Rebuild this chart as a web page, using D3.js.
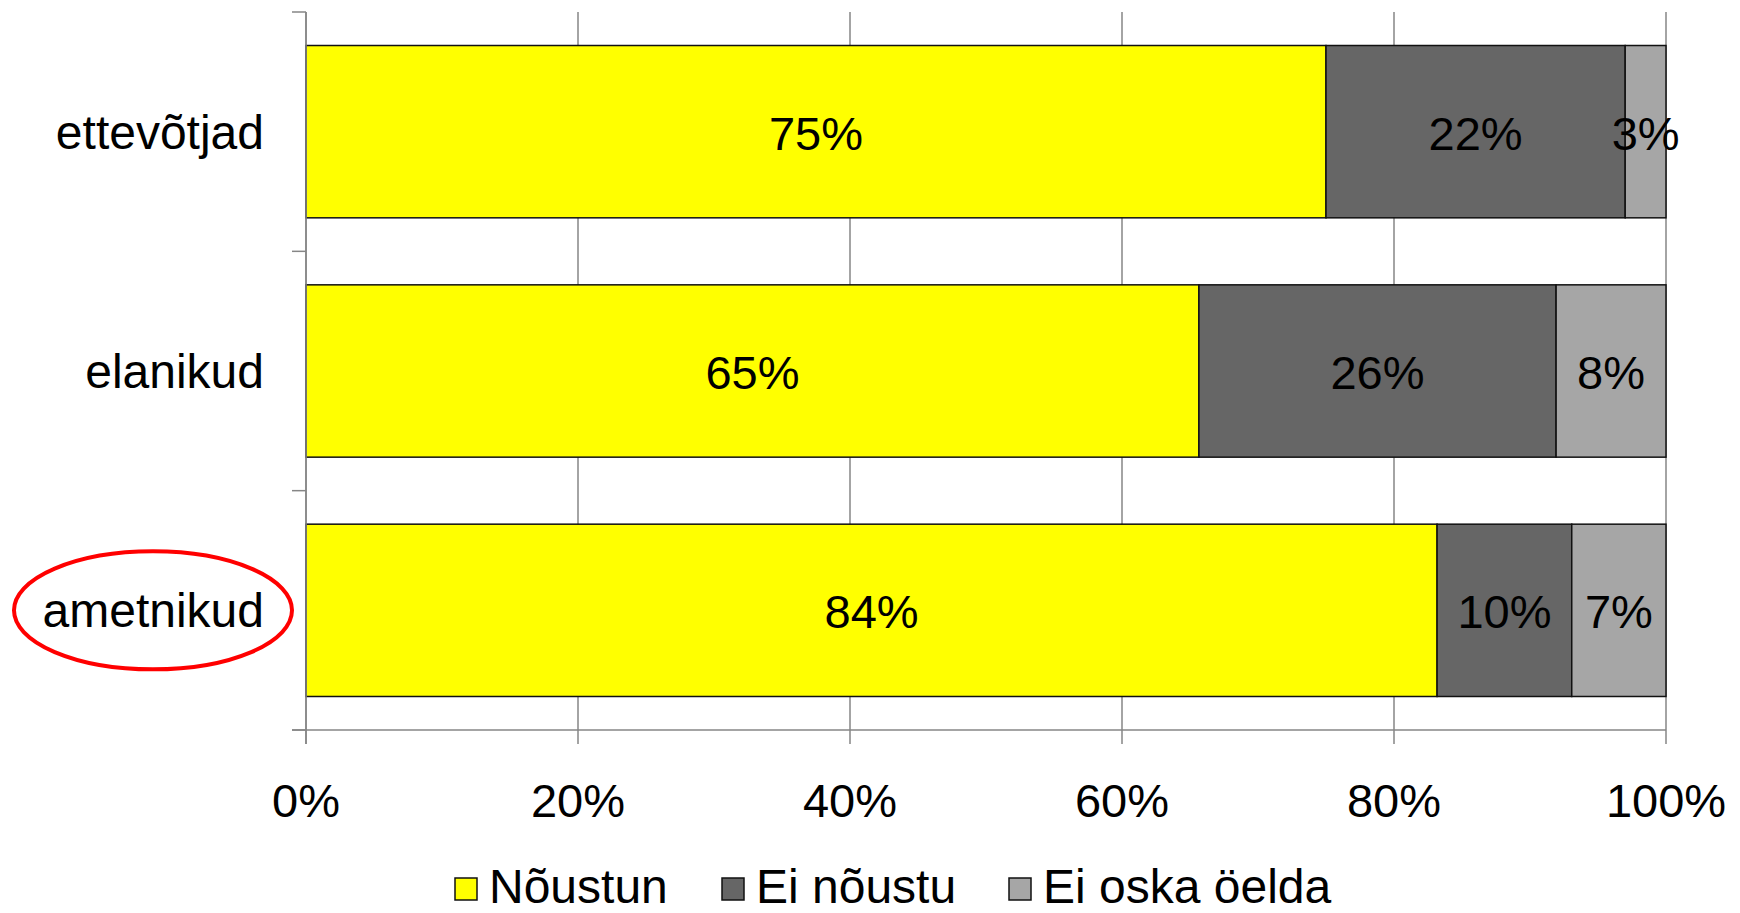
<!DOCTYPE html>
<html>
<head>
<meta charset="utf-8">
<script src="https://cdn.jsdelivr.net/npm/d3@7"></script>
<style>
  html, body { margin: 0; padding: 0; background: #fff; }
  svg { display: block; }
  text { font-family: "Liberation Sans", Arial, sans-serif; fill: #000; }
</style>
</head>
<body>
<svg id="chart" width="1740" height="913"></svg>
<script>
const categories = ["ettevõtjad", "elanikud", "ametnikud"];
const seriesNames = ["Nõustun", "Ei nõustu", "Ei oska öelda"];
const nõustun = [75, 65, 84];
const eiNõustu = [22, 26, 10];
const eiOskaÖelda = [3, 8, 7];
const tickValues = [0, 0.2, 0.4, 0.6, 0.8, 1];
const tickLabels = ["0%", "20%", "40%", "60%", "80%", "100%"];
const colors = ["#FFFF00", "#666666", "#A6A6A6"];
const highlighted = "ametnikud";

const rows = categories.map((c, i) => ({
  category: c,
  "Nõustun": nõustun[i],
  "Ei nõustu": eiNõustu[i],
  "Ei oska öelda": eiOskaÖelda[i]
}));

const svg = d3.select("#chart");
const plot = { left: 306, right: 1666, top: 12, bottom: 730 };
const fontSize = 47;

const x = d3.scaleLinear().domain([0, 1]).range([plot.left, plot.right]);
const y = d3.scaleBand().domain(categories).range([plot.top, plot.bottom])
  .paddingInner(0.28).paddingOuter(0.14);

const stacked = d3.stack().keys(seriesNames).offset(d3.stackOffsetExpand)(rows);
const color = d3.scaleOrdinal().domain(seriesNames).range(colors);

// vertical gridlines (extend below axis as tick marks)
svg.append("g").selectAll("line").data(tickValues).join("line")
  .attr("x1", d => x(d)).attr("x2", d => x(d))
  .attr("y1", plot.top).attr("y2", plot.bottom + 14)
  .attr("stroke", "#868686").attr("stroke-width", 1.5);

// bottom axis line
svg.append("line")
  .attr("x1", plot.left - 14).attr("x2", plot.right)
  .attr("y1", plot.bottom).attr("y2", plot.bottom)
  .attr("stroke", "#868686").attr("stroke-width", 1.5);

// category tick marks (band boundaries)
const boundaries = categories.map(c => y(c) - (y.step() - y.bandwidth()) / 2);
boundaries.push(plot.bottom);
svg.append("g").selectAll("line").data(boundaries).join("line")
  .attr("x1", plot.left - 14).attr("x2", plot.left)
  .attr("y1", d => d).attr("y2", d => d)
  .attr("stroke", "#868686").attr("stroke-width", 1.5);

// bars
const layer = svg.append("g").selectAll("g").data(stacked).join("g")
  .attr("fill", d => color(d.key));
layer.selectAll("rect").data(d => d).join("rect")
  .attr("x", d => x(d[0]))
  .attr("width", d => x(d[1]) - x(d[0]))
  .attr("y", d => y(d.data.category))
  .attr("height", y.bandwidth())
  .attr("stroke", "#111").attr("stroke-width", 1.5);

// left axis line (on top of bars)
svg.append("line")
  .attr("x1", plot.left).attr("x2", plot.left)
  .attr("y1", plot.top).attr("y2", plot.bottom + 14)
  .attr("stroke", "#868686").attr("stroke-width", 1.5);

// value labels
const rawSeries = [nõustun, eiNõustu, eiOskaÖelda];
const labels = [];
stacked.forEach((s, si) => {
  s.forEach((d, ci) => {
    labels.push({ x: (x(d[0]) + x(d[1])) / 2, y: y(d.data.category) + y.bandwidth() / 2, text: rawSeries[si][ci] + "%" });
  });
});
svg.append("g").selectAll("text").data(labels).join("text")
  .attr("x", d => d.x).attr("y", d => d.y + 18)
  .attr("text-anchor", "middle")
  .attr("font-size", fontSize)
  .text(d => d.text);

// category labels
svg.append("g").selectAll("text").data(categories).join("text")
  .attr("x", 264)
  .attr("y", d => y(d) + y.bandwidth() / 2 + 17)
  .attr("text-anchor", "end")
  .attr("font-size", 48)
  .text(d => d);

// highlight ellipse
svg.append("ellipse")
  .attr("cx", 153)
  .attr("cy", y(highlighted) + y.bandwidth() / 2)
  .attr("rx", 139).attr("ry", 59)
  .attr("fill", "none").attr("stroke", "#FF0000").attr("stroke-width", 4);

// x tick labels
svg.append("g").selectAll("text").data(tickValues).join("text")
  .attr("x", d => x(d)).attr("y", 817)
  .attr("text-anchor", "middle")
  .attr("font-size", fontSize)
  .text((d, i) => tickLabels[i]);

// legend
const legendX = [455, 722, 1009];
const lg = svg.append("g").selectAll("g").data(seriesNames).join("g")
  .attr("transform", (d, i) => `translate(${legendX[i]},0)`);
lg.append("rect")
  .attr("x", 0).attr("y", 878).attr("width", 22).attr("height", 22)
  .attr("fill", d => color(d)).attr("stroke", "#111").attr("stroke-width", 1.5);
lg.append("text")
  .attr("x", 34).attr("y", 903)
  .attr("font-size", 48)
  .text(d => d);
</script>
</body>
</html>
